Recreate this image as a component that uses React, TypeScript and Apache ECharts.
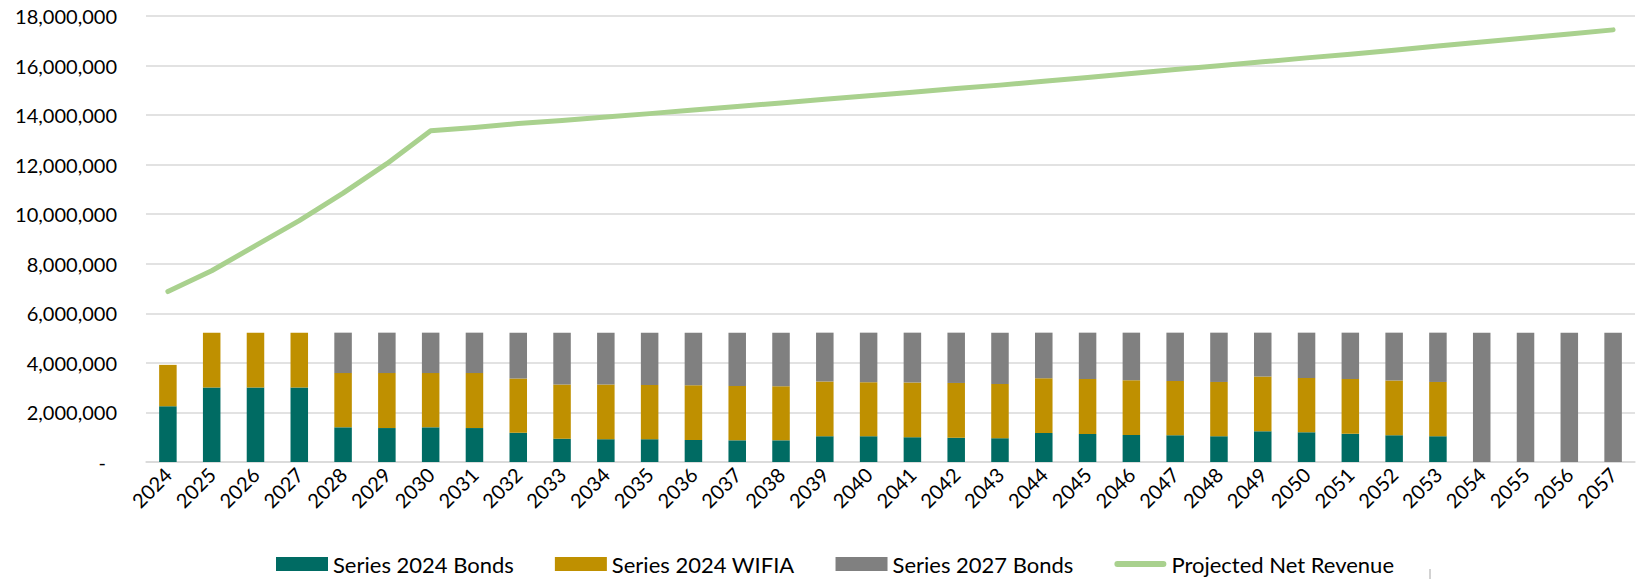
import React, { useEffect, useRef } from "react";
import * as echarts from "echarts";

const years = [
  "2024", "2025", "2026", "2027", "2028", "2029", "2030", "2031", "2032", "2033",
  "2034", "2035", "2036", "2037", "2038", "2039", "2040", "2041", "2042", "2043",
  "2044", "2045", "2046", "2047", "2048", "2049", "2050", "2051", "2052", "2053",
  "2054", "2055", "2056", "2057",
];

const series2024Bonds = [
  2250000, 3010000, 3010000, 3010000, 1400000, 1370000, 1400000, 1370000, 1180000, 940000,
  920000, 920000, 890000, 875000, 875000, 1040000, 1040000, 1000000, 980000, 960000,
  1170000, 1130000, 1090000, 1080000, 1040000, 1240000, 1200000, 1140000, 1080000, 1040000,
  0, 0, 0, 0,
];

const series2024Wifia = [
  1670000, 2210000, 2210000, 2210000, 2190000, 2220000, 2190000, 2220000, 2190000, 2190000,
  2210000, 2190000, 2210000, 2190000, 2180000, 2210000, 2180000, 2210000, 2210000, 2190000,
  2210000, 2220000, 2210000, 2190000, 2190000, 2210000, 2190000, 2210000, 2210000, 2190000,
  0, 0, 0, 0,
];

const series2027Bonds = [
  0, 0, 0, 0, 1630000, 1630000, 1630000, 1630000, 1850000, 2090000,
  2090000, 2110000, 2120000, 2155000, 2165000, 1970000, 2000000, 2010000, 2030000, 2070000,
  1840000, 1870000, 1920000, 1950000, 1990000, 1770000, 1830000, 1870000, 1930000, 1990000,
  5220000, 5220000, 5220000, 5220000,
];

const projectedNetRevenue = [
  6880000, 7720000, 8730000, 9740000, 10850000, 12040000, 13370000, 13500000, 13660000, 13780000,
  13920000, 14060000, 14210000, 14350000, 14490000, 14640000, 14780000, 14920000, 15070000, 15210000,
  15370000, 15520000, 15680000, 15840000, 15990000, 16150000, 16310000, 16460000, 16620000, 16790000,
  16950000, 17110000, 17270000, 17440000,
];

const FONT = "Lato";

export default function App() {
  const ref = useRef<HTMLDivElement>(null);
  useEffect(() => {
    if (!ref.current) return;
    const chart = echarts.init(ref.current, null, { renderer: "svg" });
    const fmt = (v: number) =>
      v === 0 ? "{z|-}" : v.toLocaleString("en-US");
    chart.setOption({
      animation: false,
      backgroundColor: "#ffffff",
      textStyle: { fontFamily: FONT, color: "#000000" },
      grid: { left: 146, right: 3, top: 16, bottom: 117, containLabel: false },
      legend: {
        left: 271,
        top: 548,
        itemWidth: 52,
        itemHeight: 14,
        itemGap: 41,
        textStyle: { fontFamily: FONT, fontSize: 22, color: "#000000" },
        data: [
          { name: "Series 2024 Bonds", icon: "rect" },
          { name: "Series 2024 WIFIA", icon: "rect" },
          { name: "Series 2027 Bonds", icon: "rect" },
          {
            name: "Projected Net Revenue",
            icon: "path://M3,0 L49,0 A3,3 0 0 1 49,6 L3,6 A3,3 0 0 1 3,0 Z",
            itemStyle: { color: "#A9D18E" },
          },
        ],
      },
      xAxis: {
        type: "category",
        data: years,
        axisLine: { lineStyle: { color: "#d9d9d9", width: 1.5 } },
        axisTick: { show: false },
        axisLabel: {
          rotate: 45,
          interval: 0,
          margin: 9,
          fontFamily: FONT,
          fontSize: 20,
          color: "#000000",
        },
      },
      yAxis: {
        type: "value",
        min: 0,
        max: 18000000,
        interval: 2000000,
        axisLine: { show: false },
        axisTick: { show: false },
        splitLine: { lineStyle: { color: "#d9d9d9", width: 1.5 } },
        axisLabel: {
          margin: 29,
          fontFamily: FONT,
          fontSize: 20,
          color: "#000000",
          formatter: fmt,
          rich: { z: { fontFamily: FONT, fontSize: 20, padding: [0, 11, 0, 0] } },
        },
      },
      series: [
        {
          name: "Series 2024 Bonds",
          type: "bar",
          stack: "debt",
          barWidth: "40%",
          data: series2024Bonds,
          itemStyle: { color: "#006B63" },
        },
        {
          name: "Series 2024 WIFIA",
          type: "bar",
          stack: "debt",
          barWidth: "40%",
          data: series2024Wifia,
          itemStyle: { color: "#BF9000" },
        },
        {
          name: "Series 2027 Bonds",
          type: "bar",
          stack: "debt",
          barWidth: "40%",
          data: series2027Bonds,
          itemStyle: { color: "#808080" },
        },
        {
          name: "Projected Net Revenue",
          type: "line",
          data: projectedNetRevenue,
          symbol: "none",
          lineStyle: { color: "#A9D18E", width: 5, cap: "round", join: "round" },
          itemStyle: { color: "#A9D18E" },
          z: 5,
        },
      ],
      graphic: [
        {
          type: "line",
          shape: { x1: 1430, y1: 569, x2: 1430, y2: 579 },
          style: { stroke: "#a6a6a6", lineWidth: 1 },
        },
      ],
    });
    return () => chart.dispose();
  }, []);
  return (
    <div
      ref={ref}
      style={{ position: "fixed", left: 0, top: 0, width: 1638, height: 579 }}
    />
  );
}
